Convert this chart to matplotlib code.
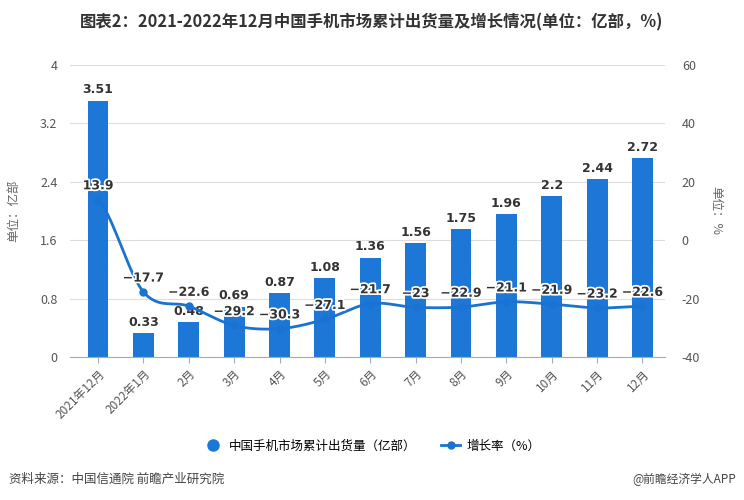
import numpy as np
import matplotlib
matplotlib.use("Agg")
import matplotlib.pyplot as plt
import matplotlib.patheffects as pe
from matplotlib.lines import Line2D

plt.rcParams['font.family'] = ['Noto Sans CJK SC', 'DejaVu Sans']

categories = ["2021年12月", "2022年1月", "2月", "3月", "4月", "5月", "6月",
              "7月", "8月", "9月", "10月", "11月", "12月"]
shipments = [3.51, 0.33, 0.48, 0.69, 0.87, 1.08, 1.36, 1.56, 1.75, 1.96, 2.2, 2.44, 2.72]
growth = [13.9, -17.7, -22.6, -29.2, -30.3, -27.1, -21.7, -23, -22.9, -21.1, -21.9, -23.2, -22.6]
left_ticks = [0, 0.8, 1.6, 2.4, 3.2, 4]
right_ticks = [-40, -20, 0, 20, 40, 60]

bar_color = "#1c77d6"
line_color = "#1a73d0"

fig = plt.figure(figsize=(7.44, 5.0), dpi=100)
ax = fig.add_axes([0.094, 0.286, 0.800, 0.584])
ax2 = ax.twinx()

x = np.arange(len(categories))
ax.bar(x, shipments, width=0.46, color=bar_color, zorder=2)
for xi, v in zip(x, shipments):
    ax.text(xi, v + 0.06, f"{v:g}", ha="center", va="bottom", fontsize=9,
            fontweight="bold", color="#333333", family=["DejaVu Sans"], zorder=5)

ax.set_ylim(0, 4)
ax.set_yticks(left_ticks)
ax.set_yticklabels([f"{t:g}" for t in left_ticks], fontsize=9, color="#555555")
ax.set_xlim(-0.62, 12.5)
ax.set_xticks(x)
ax.set_xticklabels(categories, rotation=45, ha="right", rotation_mode="anchor",
                   fontsize=8.5, color="#555555")
ax.grid(axis="y", color="#dddddd", linewidth=0.8, zorder=0)
ax.set_axisbelow(True)
for s in ["top", "right", "left"]:
    ax.spines[s].set_visible(False)
ax.spines["bottom"].set_color("#aaaaaa")
ax.tick_params(axis="y", length=0, pad=9)
ax.tick_params(axis="x", length=4, color="#aaaaaa")
ax.set_ylabel("单位：亿部", fontsize=9, color="#666666", labelpad=14)

# smooth curve through points (Catmull-Rom) for display
g = np.array(growth, dtype=float)
xs_all, ys_all = [], []
P = np.concatenate([[g[0]], g, [g[-1]]])
X = np.concatenate([[x[0] - 1], x, [x[-1] + 1]]).astype(float)
for i in range(1, len(P) - 2):
    t = np.linspace(0, 1, 20)
    p0, p1, p2, p3 = P[i - 1], P[i], P[i + 1], P[i + 2]
    y = 0.5 * ((2 * p1) + (-p0 + p2) * t + (2 * p0 - 5 * p1 + 4 * p2 - p3) * t ** 2
               + (-p0 + 3 * p1 - 3 * p2 + p3) * t ** 3)
    xs_all.append(X[i] + t)
    ys_all.append(y)
xs_all = np.concatenate(xs_all)
ys_all = np.concatenate(ys_all)
ax2.plot(xs_all, ys_all, color=line_color, linewidth=2, zorder=3)
ax2.plot(x, growth, linestyle="none", marker="o", markersize=5, color=line_color, zorder=4)
for xi, v in zip(x, growth):
    lab = f"{v:g}".replace("-", "−")
    ax2.text(xi, v + 2.5, lab, ha="center", va="bottom", fontsize=9,
             fontweight="bold", color="#333333", family=["DejaVu Sans"], zorder=6,
             path_effects=[pe.withStroke(linewidth=2.5, foreground="white")])

ax2.set_ylim(-40, 60)
ax2.set_yticks(right_ticks)
ax2.set_yticklabels([f"{t:g}" for t in right_ticks], fontsize=9, color="#555555")
for s in ["top", "right", "left", "bottom"]:
    ax2.spines[s].set_visible(False)
ax2.tick_params(axis="y", length=0, pad=12)
ax2.set_ylabel("单位：%", fontsize=9, color="#666666", rotation=270, labelpad=16)

fig.text(0.5, 0.955, "图表2：2021-2022年12月中国手机市场累计出货量及增长情况(单位：亿部，%)",
         ha="center", va="center", fontsize=11.8, fontweight="bold", color="#333333")

handles = [Line2D([], [], linestyle="none", marker="o", markersize=8, color=bar_color),
           Line2D([], [], color=line_color, linewidth=2, marker="o", markersize=5)]
fig.legend(handles, ["中国手机市场累计出货量（亿部）", "增长率（%）"], loc="center",
           bbox_to_anchor=(0.5, 0.108), ncol=2, frameon=False, fontsize=9,
           handlelength=1.5, columnspacing=2.0, handletextpad=0.5)

fig.text(0.012, 0.042, "资料来源：中国信通院 前瞻产业研究院", fontsize=9, color="#444444", va="center")
fig.text(0.99, 0.042, "@前瞻经济学人APP", fontsize=8.5, color="#444444", va="center", ha="right")

fig.savefig("out.png", dpi=100)
